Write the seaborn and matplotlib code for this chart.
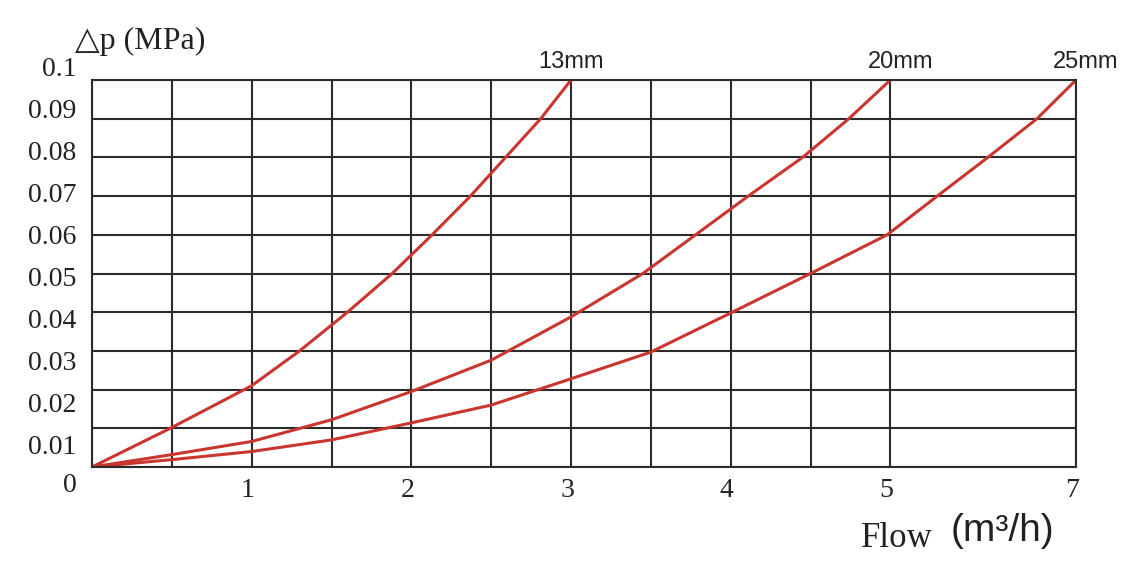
import numpy as np
import pandas as pd
import matplotlib
matplotlib.use("Agg")
import matplotlib.pyplot as plt
import matplotlib.transforms as mtransforms
import seaborn as sns

# values (mostly where curves cross the grid)
flow_13 = [0, 0.49, 1.0, 1.30, 1.60, 1.88, 2.13, 2.37, 2.59, 2.81, 3.0]
dp_13 = [0, 0.010, 0.021, 0.030, 0.040, 0.050, 0.060, 0.070, 0.080, 0.090, 0.100]

flow_20 = [0, 0.5, 1.0, 1.5, 2.0, 2.5, 3.0, 3.45, 3.78, 4.11, 4.45, 4.74, 5.0]
dp_20 = [0, 0.0032, 0.0066, 0.0122, 0.0195, 0.0276, 0.0388, 0.050, 0.060, 0.070, 0.080, 0.090, 0.100]

flow_25 = [0, 0.5, 1.0, 1.5, 2.0, 2.5, 3.0, 3.5, 4.0, 4.5, 4.98, 5.505, 6.05, 6.58, 7.0]
dp_25 = [0, 0.0019, 0.0040, 0.0070, 0.0114, 0.0160, 0.0228, 0.0297, 0.0398, 0.050, 0.060, 0.070, 0.080, 0.090, 0.100]

sizes = ["13mm", "20mm", "25mm"]
size_ends = [3, 5, 7]

x_grid = [0, 0.5, 1, 1.5, 2, 2.5, 3, 3.5, 4, 4.5, 5, 7]
x_labels = ["", "", "1", "", "2", "", "3", "", "4", "", "5", "7"]
y_grid = [0, 0.01, 0.02, 0.03, 0.04, 0.05, 0.06, 0.07, 0.08, 0.09, 0.1]
y_labels = ["", "0.01", "0.02", "0.03", "0.04", "0.05", "0.06", "0.07", "0.08", "0.09", "0.1"]

df = pd.concat([
    pd.DataFrame({"flow": flow_13, "dp": dp_13, "size": "13mm"}),
    pd.DataFrame({"flow": flow_20, "dp": dp_20, "size": "20mm"}),
    pd.DataFrame({"flow": flow_25, "dp": dp_25, "size": "25mm"}),
])

RED = "#c8362f"
GRID = "#2b2b2b"
INK = "#222222"
SERIF = ["Liberation Serif", "DejaVu Serif"]
SANS = ["Liberation Sans", "DejaVu Sans"]

sns.set_style("white")

fig = plt.figure(figsize=(11.39, 5.69), dpi=100)
ax = fig.add_axes([92 / 1139, 1 - 467 / 569, (1076 - 92) / 1139, (467 - 80) / 569])

# the flow axis is squeezed after 5 m3/h
K = 93 / 160


def fwd(x):
    x = np.asarray(x, dtype=float)
    return np.where(x <= 5, x, 5 + (x - 5) * K)


def inv(u):
    u = np.asarray(u, dtype=float)
    return np.where(u <= 5, u, 5 + (u - 5) / K)


ax.set_xscale("function", functions=(fwd, inv))

sns.lineplot(data=df, x="flow", y="dp", hue="size", units="size",
             palette={s: RED for s in sizes}, estimator=None, sort=False,
             linewidth=2.2, legend=False, ax=ax)

ax.set_xlim(0, 7)
ax.set_ylim(0, 0.1)
ax.set_xticks(x_grid)
ax.set_xticklabels(x_labels, family=SERIF, fontsize=20)
ax.set_yticks(y_grid)
ax.set_yticklabels(y_labels, family=SERIF, fontsize=20)
ax.tick_params(axis="both", length=0, colors=INK)
ax.tick_params(axis="x", pad=8)
ax.tick_params(axis="y", pad=11)
ax.grid(True, color=GRID, linewidth=1.5)
ax.set_axisbelow(True)
for sp in ax.spines.values():
    sp.set_color(GRID)
    sp.set_linewidth(1.5)
ax.set_xlabel("")
ax.set_ylabel("")

# the printed y labels are spaced a bit wider than the grid
for i, lab in enumerate(ax.get_yticklabels()):
    dy = -13 + (10 - i) * 3.2
    lab.set_transform(lab.get_transform() +
                      mtransforms.ScaledTranslation(0, -dy / 100, fig.dpi_scale_trans))
for lab in ax.get_xticklabels():
    lab.set_transform(lab.get_transform() +
                      mtransforms.ScaledTranslation(-4 / 100, 0, fig.dpi_scale_trans))

# origin label
ax.annotate("0", xy=(0, 0), xytext=(-22, -19), textcoords="offset pixels",
            ha="center", va="center", family=SERIF, fontsize=20, color=INK,
            annotation_clip=False)

# size labels at curve ends
for name, end, dx in zip(sizes, size_ends, [0, 10, 10]):
    ax.annotate(name, xy=(end, 0.1), xytext=(dx, 18), textcoords="offset pixels",
                ha="center", va="center", family=SANS, fontsize=17, color=INK,
                annotation_clip=False)

fig.text(75 / 1139, 1 - 41 / 569, "\u25b3p (MPa)", ha="left", va="center",
         family=SERIF, fontsize=23, color=INK)
fig.text(897 / 1139, 1 - 547 / 569, "Flow", ha="center", va="baseline",
         family=SERIF, fontsize=25, color=INK)
fig.text(1002 / 1139, 1 - 541 / 569, "(m\u00b3/h)", ha="center", va="baseline",
         family=SANS, fontsize=28, color=INK)

fig.savefig("out.png", dpi=100, facecolor="white")
